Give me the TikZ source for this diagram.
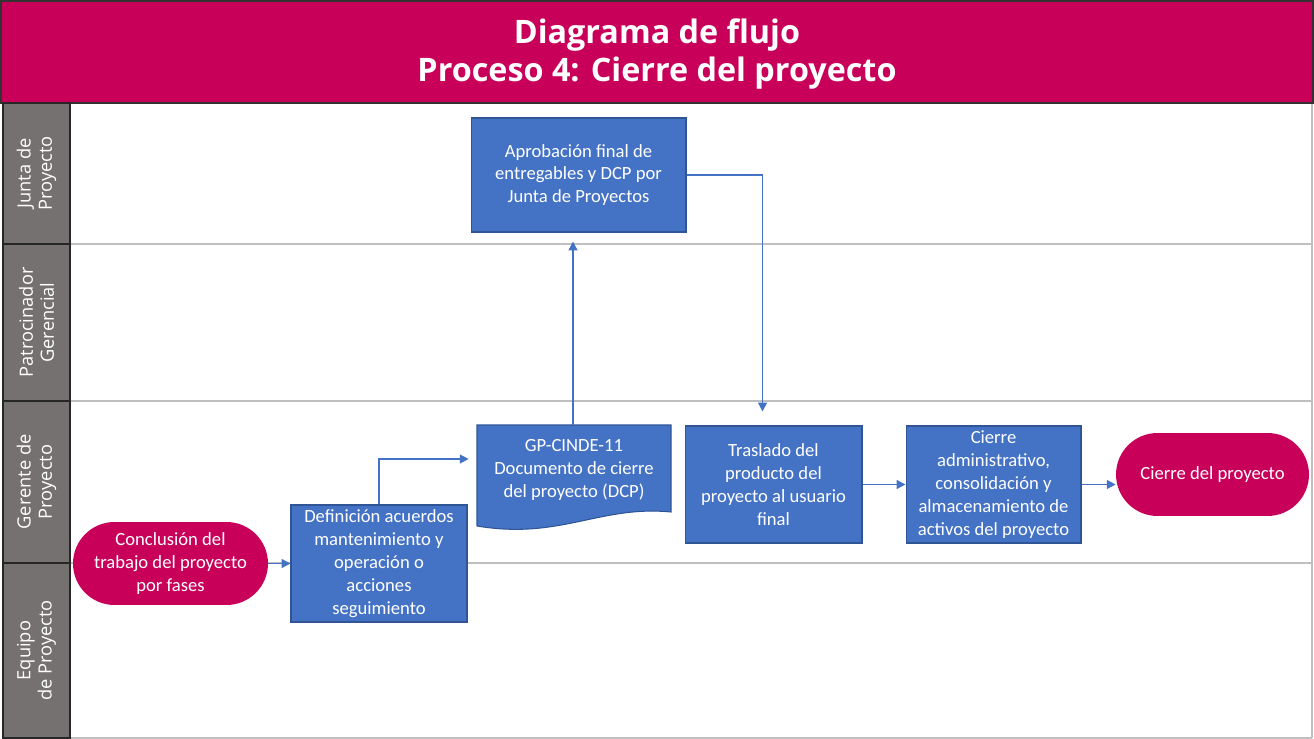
\documentclass[tikz,border=0pt]{standalone}
\usepackage{fontspec}
\setmainfont{Carlito}
\newfontfamily\headfont{Open Sans}
\usetikzlibrary{arrows.meta}
\definecolor{mgx}{HTML}{C8005A}
\definecolor{blx}{HTML}{4472C4}
\definecolor{bdx}{HTML}{2F5597}
\definecolor{gyx}{HTML}{767171}
\definecolor{lnx}{HTML}{BFBFBF}

\begin{document}
\begin{tikzpicture}[
        x=0.02cm, y=-0.02cm,
        every node/.append style={font=\fontsize{10.6}{13}\selectfont, text=white, align=center, inner sep=0pt},
        lanelabel/.style={rotate=90, fill=gyx, draw=black!85, line width=1pt, minimum height=1.34cm, font=\headfont\fontsize{10.4}{12}\selectfont},
        procbox/.style={fill=blx, draw=bdx, line width=0.6pt},
        termbox/.style={fill=mgx, minimum width=3.86cm, minimum height=1.66cm, rounded corners=0.83cm},
        flow/.style={draw=blx, line width=0.8pt, -{Triangle[length=5pt,width=5pt]}}
    ]
    \useasboundingbox (0,0) rectangle (1314,739);
    \fill[white] (0,0) rectangle (1314,739);
    \fill[mgx] (2,2) rectangle (1312,103);
    \node[font=\headfont\bfseries\fontsize{18.4}{22}\selectfont] (title) at (657,54)
        {Diagrama de flujo\\Proceso 4: Cierre del proyecto};
    \draw[lnx, line width=1pt] (70,244) -- (1312,244) (70,401) -- (1312,401)
        (70,563) -- (1312,563) (70,738) -- (1312,738) (1312,103) -- (1312,738);
    \draw[black!80, line width=1pt] (1,1) rectangle (1313,103);
    \node[lanelabel, minimum width=2.82cm] (junta) at (36.5,173.5) {Junta de\\Proyecto};
    \node[lanelabel, minimum width=3.14cm] (patro) at (36.5,322.5) {Patrocinador\\Gerencial};
    \node[lanelabel, minimum width=3.24cm] (gerente) at (36.5,482) {Gerente de\\Proyecto};
    \node[lanelabel, minimum width=3.5cm] (equipo) at (36.5,650.5) {Equipo\\de Proyecto};

    \node[procbox, minimum width=4.3cm, minimum height=2.28cm] (aprob) at (578.5,175)
        {Aprobación final de\\entregables y DCP por\\Junta de Proyectos};
    \filldraw[fill=blx, draw=bdx, line width=0.6pt] (477,425) -- (671,425) -- (671,512)
        .. controls (600,505) and (560,540) .. (477,526) -- cycle;
    \node[minimum width=3.88cm, minimum height=1.8cm] (doc) at (574,470)
        {GP-CINDE-11\\Documento de cierre\\del proyecto (DCP)};
    \node[procbox, minimum width=3.54cm, minimum height=2.34cm] (trasl) at (773.5,484.5)
        {Traslado del\\producto del\\proyecto al usuario\\final};
    \node[procbox, minimum width=3.5cm, minimum height=2.34cm] (admin) at (993.5,484.5)
        {Cierre\\administrativo,\\consolidación y\\almacenamiento de\\activos del proyecto};
    \node[termbox] (fin) at (1212.5,474.5) {Cierre del proyecto};
    \node[termbox, minimum width=3.9cm] (concl) at (170.5,563.5)
        {Conclusión del\\trabajo del proyecto\\por fases};
    \node[procbox, minimum width=3.52cm, minimum height=2.34cm] (defin) at (379,563.5)
        {Definición acuerdos\\mantenimiento y\\operación o\\acciones\\seguimiento};

    \draw[flow] (concl) -- (defin);
    \draw[flow] (defin.north) |- ([xshift=-0.16cm,yshift=0.22cm]doc.west);
    \draw[flow, shorten >=0.18cm] ([xshift=-0.02cm]doc.north) -- ([xshift=-0.02cm]doc.north |- aprob.south);
    \draw[flow, shorten >=0.28cm] (aprob.east) -| ([xshift=-0.22cm]trasl.north);
    \draw[flow] (trasl) -- (admin);
    \draw[flow] (admin.east) -- (admin.east -| fin.west);
\end{tikzpicture}
\end{document}
